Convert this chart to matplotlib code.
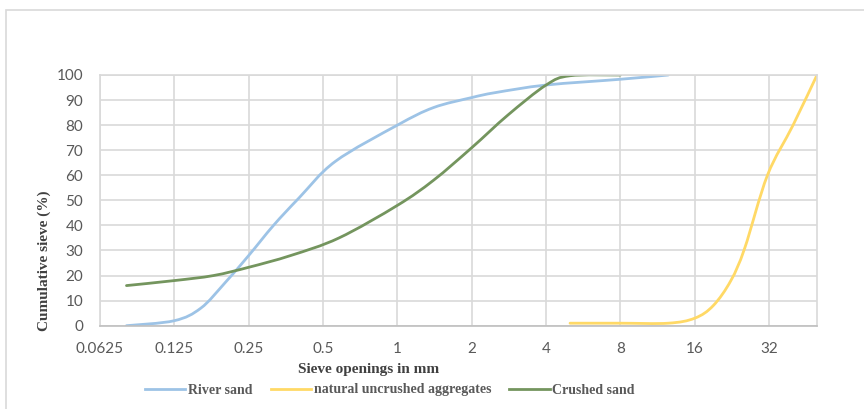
import matplotlib
matplotlib.use("Agg")
import matplotlib.pyplot as plt
import numpy as np
from matplotlib.path import Path
from matplotlib.patches import PathPatch, Rectangle
from matplotlib.lines import Line2D

# sieve sizes (mm) and cumulative passing (%)
river_x = [0.08, 0.125, 0.16, 0.2, 0.25, 0.315, 0.4, 0.56, 1.0, 1.4, 2.0, 2.5, 4.0, 8.0, 12.5]
river_y = [0, 2, 7, 17, 28, 40, 51, 65.5, 80, 87, 91, 93, 96, 98.3, 100]

natural_x = [5, 8, 12.5, 16, 19, 22.4, 25.5, 31.5, 40, 50]
natural_y = [1, 1, 1, 3, 8, 18, 31, 60, 80, 100]

crushed_x = [0.08, 0.125, 0.18, 0.25, 0.37, 0.58, 1.0, 1.4, 2.0, 2.8, 4.0, 5.0, 8.0]
crushed_y = [16, 18, 20, 23.3, 28, 35, 48, 58, 71, 84, 96, 99.7, 100]

x_ticks = [0.0625, 0.125, 0.25, 0.5, 1, 2, 4, 8, 16, 32]
x_labels = ["0.0625", "0.125", "0.25", "0.5", "1", "2", "4", "8", "16", "32"]
y_ticks = list(range(0, 101, 10))

series = [
    ("River sand", river_x, river_y, "#9DC3E6"),
    ("natural uncrushed aggregates", natural_x, natural_y, "#FFD966"),
    ("Crushed sand", crushed_x, crushed_y, "#74955E"),
]

_GRID = "#D9D9D9"
_TICK = "#595959"


def smooth_path(xs, ys):
    """Excel-like smoothed line: cubic Bezier through the points (log2 x space)."""
    lx = np.log2(np.asarray(xs, float))
    y = np.asarray(ys, float)
    n = len(lx)
    verts = [(xs[0], ys[0])]
    codes = [Path.MOVETO]
    for i in range(n - 1):
        p0 = max(i - 1, 0)
        p3 = min(i + 2, n - 1)
        c1x = lx[i] + (lx[i + 1] - lx[p0]) / 6
        c1y = y[i] + (y[i + 1] - y[p0]) / 6
        c2x = lx[i + 1] - (lx[p3] - lx[i]) / 6
        c2y = y[i + 1] - (y[p3] - y[i]) / 6
        verts += [(2 ** c1x, c1y), (2 ** c2x, c2y), (xs[i + 1], ys[i + 1])]
        codes += [Path.CURVE4] * 3
    return Path(verts, codes)


fig = plt.figure(figsize=(8.64, 4.09), dpi=100, facecolor="white")
ax = fig.add_axes([100 / 864, 1 - 325.7 / 409, 717 / 864, 250.7 / 409])

ax.set_xscale("log", base=2)
ax.set_xlim(0.0625, 50)
ax.set_ylim(0, 100)
ax.set_xticks(x_ticks)
ax.set_xticklabels(x_labels)
ax.set_yticks(y_ticks)
ax.minorticks_off()
ax.tick_params(length=0, pad=12, labelsize=11, colors=_TICK)
for lab in ax.get_xticklabels() + ax.get_yticklabels():
    lab.set_family("Lato")

ax.grid(color=_GRID, linewidth=1.2)
ax.set_axisbelow(True)
for name, spine in ax.spines.items():
    spine.set_edgecolor("#BFBFBF" if name == "bottom" else _GRID)
    spine.set_linewidth(1.2)

handles = []
for label, xs, ys, color in series:
    ax.add_patch(PathPatch(smooth_path(xs, ys), facecolor="none",
                           edgecolor=color, linewidth=2.0, capstyle="round"))
    handles.append(Line2D([], [], color=color, linewidth=2.0, label=label))

fig.text(44 / 864, 1 - 261 / 409, "Cumulative sieve (%)", rotation=90,
         ha="center", va="center", family="Liberation Serif",
         fontweight="bold", fontsize=11, color="#404040")
fig.text(369 / 864, 1 - 370 / 409, "Sieve openings in mm",
         ha="center", va="center", family="Liberation Serif",
         fontweight="bold", fontsize=11, color="#404040")

fig.legend(handles=handles, loc="center", bbox_to_anchor=(390 / 864, 1 - 390 / 409),
           ncol=3, frameon=False, handlelength=2.9, handletextpad=0.2,
           columnspacing=1.3,
           prop={"family": "Liberation Serif", "weight": "bold", "size": 10},
           labelcolor=_TICK)

# chart area border (cropped at right / bottom)
fig.patches.append(Rectangle((5.5 / 864, -0.1), 1.2, 1 - 9.5 / 409 + 0.1,
                             transform=fig.transFigure, fill=False,
                             edgecolor=_GRID, linewidth=1.2))

fig.savefig("out.png", dpi=100, facecolor="white")
